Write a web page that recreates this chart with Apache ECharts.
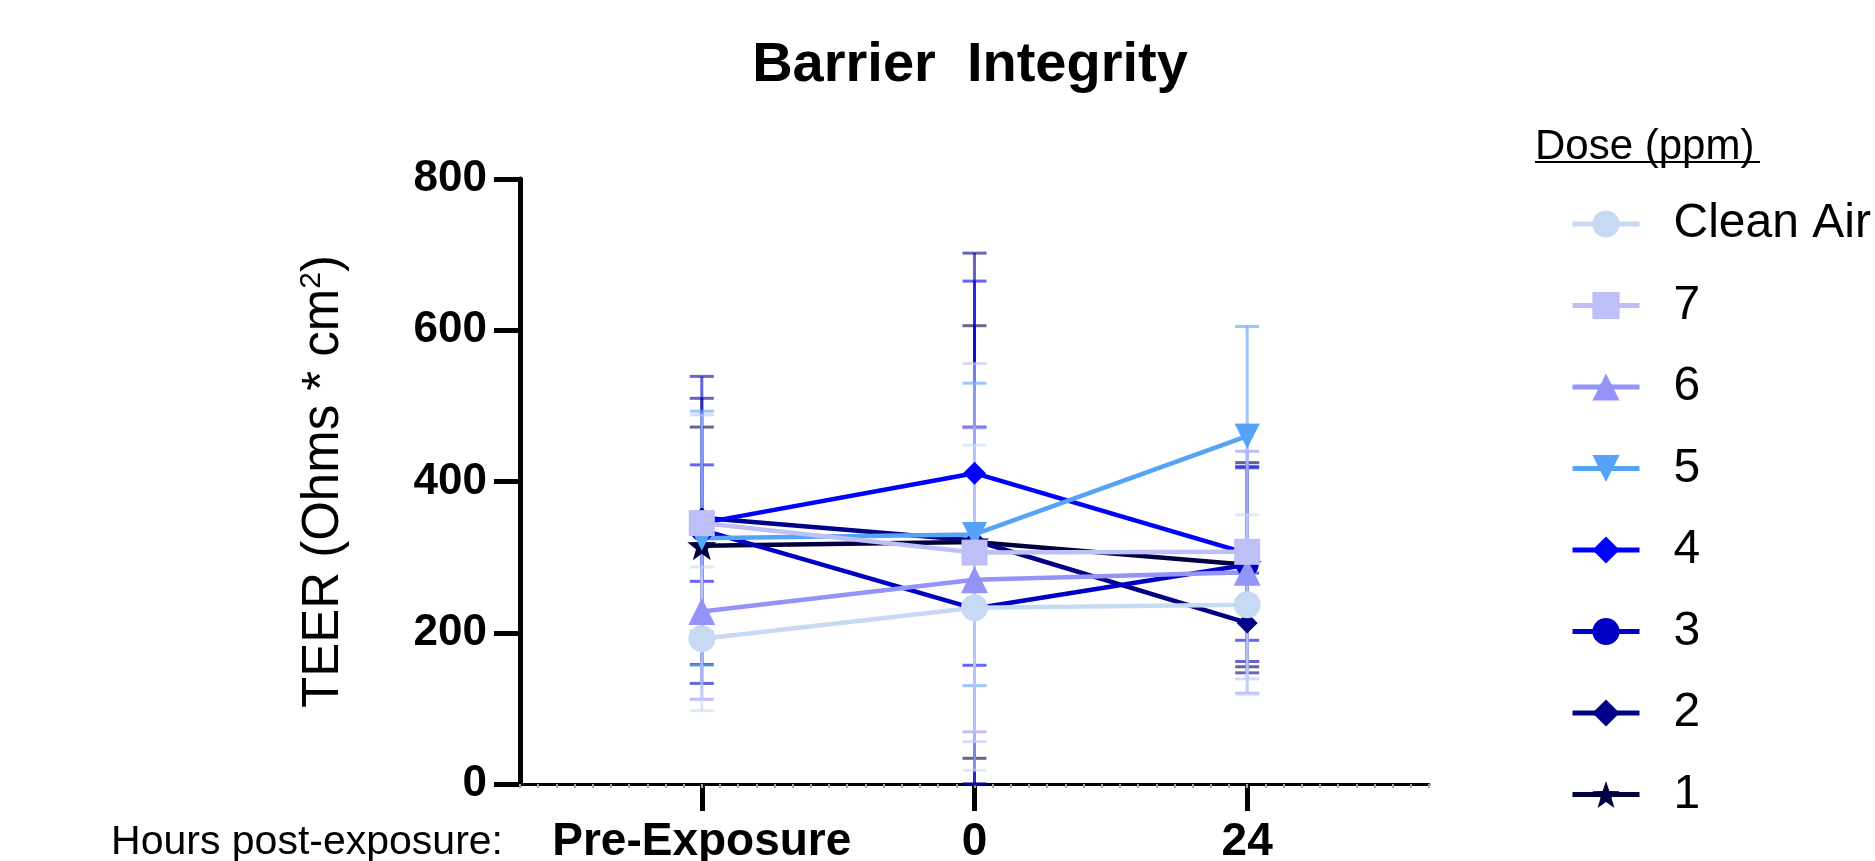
<!DOCTYPE html>
<html>
<head>
<meta charset="utf-8">
<script src="https://cdn.jsdelivr.net/npm/echarts@6/dist/echarts.min.js"></script>
<style>
html, body { margin: 0; padding: 0; background: #fff; }
#chart { width: 1875px; height: 861px; }
</style>
</head>
<body>
<div id="chart"></div>
<script>
// time points and doses
const timepoints = ['Pre-Exposure', '0', '24']
const doses = ['Clean Air', '7', '6', '5', '4', '3', '2', '1']

// mean TEER per dose (same order as doses) at each time point
const meanPre = [192, 345, 228, 325, 345, 336, 352, 315]
const mean0 = [233, 306, 270, 330, 411, 232, 322, 320]
const mean24 = [237, 307, 280, 460, 305, 290, 213, 290]

// SD per dose at each time point
const sdPre = [95, 143, 116, 168, 77, 203, 158, 157]
const sd0 = [215, 250, 201, 200, 254, 240, 380, 286]
const sd24 = [119, 168, 160, 145, 115, 128, 66, 135]

const means = [meanPre, mean0, mean24]
const sds = [sdPre, sd0, sd24]

// styles
const font = 'Liberation Sans'
const colors = ['#c6dbf3', '#bfbff8', '#9393f8', '#55a3f7', '#0000ff', '#0000c4', '#000088', '#00003f']
const star = 'path://M0,-10L2.35,-3.24L9.51,-3.09L3.8,1.24L5.88,8.09L0,4L-5.88,8.09L-3.8,1.24L-9.51,-3.09L-2.35,-3.24Z'
const symbols = ['circle', 'rect', 'triangle', 'triangle', 'diamond', 'circle', 'diamond', star]
const rotates = [0, 0, 0, 180, 0, 0, 0, 0]
const sizes = [27, 26, 27, 25, 23, 23, 21, 29]

// x axis runs in minor-tick units, time points sit 15 units apart
const xOf = k => 10 + 15 * k

function errorBar(color) {
    return function (params, api) {
        const x = api.value(0)
        const top = api.coord([x, api.value(2)])
        const bot = api.coord([x, api.value(1)])
        const w = 12
        const style = { stroke: color, lineWidth: 3, opacity: 0.6 }
        return {
            type: 'group',
            children: [
                { type: 'line', shape: { x1: top[0], y1: top[1], x2: bot[0], y2: bot[1] }, style },
                { type: 'line', shape: { x1: top[0] - w, y1: top[1], x2: top[0] + w, y2: top[1] }, style },
                { type: 'line', shape: { x1: bot[0] - w, y1: bot[1], x2: bot[0] + w, y2: bot[1] }, style }
            ]
        }
    }
}

const series = []
// earlier doses drawn on top, so push in reverse
for (let i = doses.length - 1; i >= 0; i--) {
    series.push({
        name: 'err ' + doses[i],
        type: 'custom',
        renderItem: errorBar(colors[i]),
        data: timepoints.map((t, k) => [xOf(k), Math.max(0, means[k][i] - sds[k][i]), means[k][i] + sds[k][i]]),
        z: 1,
        silent: true
    })
}
for (let i = doses.length - 1; i >= 0; i--) {
    series.push({
        name: doses[i],
        type: 'line',
        data: timepoints.map((t, k) => [xOf(k), means[k][i]]),
        symbol: symbols[i],
        symbolRotate: rotates[i],
        symbolSize: sizes[i],
        showAllSymbol: true,
        lineStyle: { color: colors[i], width: 4.5 },
        itemStyle: { color: colors[i], opacity: 1 },
        z: 3
    })
}

const chart = echarts.init(document.getElementById('chart'))
chart.setOption({
    animation: false,
    backgroundColor: '#fff',
    grid: { left: 520, right: 446, top: 179, bottom: 77, containLabel: false, outerBoundsMode: 'none' },
    xAxis: [{
        type: 'value',
        min: 0,
        max: 50,
        splitLine: { show: false },
        axisLine: { lineStyle: { color: '#000', width: 3 } },
        axisTick: { customValues: timepoints.map((t, k) => xOf(k)), length: 27, lineStyle: { color: '#000', width: 5 } },
        axisLabel: {
            customValues: timepoints.map((t, k) => xOf(k)),
            formatter: v => timepoints[Math.round((v - 10) / 15)],
            margin: 35,
            fontFamily: font,
            fontWeight: 'bold',
            fontSize: 46,
            color: '#000'
        }
    }, {
        type: 'value',
        min: 0,
        max: 50,
        interval: 1,
        position: 'bottom',
        splitLine: { show: false },
        axisLine: { show: false },
        axisTick: { length: 4, lineStyle: { color: '#a8a8a8', width: 2 } },
        axisLabel: { show: false }
    }],
    yAxis: {
        type: 'value',
        min: 0,
        max: 800,
        interval: 200,
        splitLine: { show: false },
        axisLine: { show: true, lineStyle: { color: '#000', width: 5 } },
        axisTick: { show: true, length: 26, lineStyle: { color: '#000', width: 5 } },
        axisLabel: { margin: 33, fontFamily: font, fontWeight: 'bold', fontSize: 44, color: '#000' },
        name: 'TEER (Ohms * cm{sup|2})',
        nameLocation: 'middle',
        nameGap: 169,
        nameTextStyle: {
            fontFamily: font,
            fontSize: 51,
            color: '#000',
            rich: { sup: { fontFamily: font, fontSize: 30, color: '#000', padding: [0, 0, 24, 0] } }
        }
    },
    legend: {
        data: doses,
        orient: 'vertical',
        left: 1565,
        top: 194,
        itemWidth: 67,
        itemHeight: 34,
        itemGap: 31.5,
        selectedMode: false,
        lineStyle: { width: 5 },
        textStyle: { fontFamily: font, fontSize: 48, lineHeight: 50, color: '#000', padding: [0, 0, 0, 29] }
    },
    graphic: [
        { type: 'text', x: 970, y: 66, style: { text: 'Barrier  Integrity', font: 'bold 56px "Liberation Sans"', fill: '#000', textAlign: 'center', textVerticalAlign: 'middle' } },
        { type: 'text', x: 503, y: 843, style: { text: 'Hours post-exposure:', font: '41px "Liberation Sans"', fill: '#000', textAlign: 'right', textVerticalAlign: 'middle' } },
        { type: 'text', x: 1535, y: 147, style: { text: 'Dose (ppm)', font: '42px "Liberation Sans"', fill: '#000', textAlign: 'left', textVerticalAlign: 'middle' } },
        { type: 'line', shape: { x1: 1535, y1: 162, x2: 1760, y2: 162 }, style: { stroke: '#000', lineWidth: 2 } }
    ],
    series: series
})
</script>
</body>
</html>
